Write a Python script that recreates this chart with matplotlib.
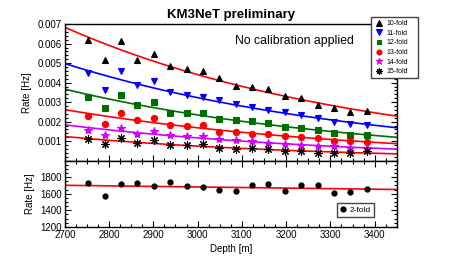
import matplotlib
matplotlib.use("Agg")
import matplotlib.pyplot as plt
import numpy as np
from matplotlib.ticker import MultipleLocator, FuncFormatter

plt.rcParams["font.family"] = ["Liberation Sans", "DejaVu Sans"]

# ── Data ────────────────────────────────────────────────────
depth = [2752, 2790, 2827, 2864, 2901, 2938, 2975, 3012, 3049,
         3086, 3123, 3160, 3197, 3234, 3271, 3308, 3345, 3382]

# coincidence rates [Hz] per fold level
rate_10 = [6.18, 5.15, 6.14, 5.15, 5.45, 4.85, 4.69, 4.59, 4.25,
           3.84, 3.75, 3.67, 3.29, 3.22, 2.85, 2.69, 2.50, 2.55]
rate_11 = [4.50, 3.62, 4.61, 3.86, 4.09, 3.50, 3.38, 3.27, 3.09,
           2.88, 2.76, 2.62, 2.47, 2.32, 2.18, 1.96, 1.88, 1.84]
rate_12 = [3.24, 2.71, 3.38, 2.86, 2.99, 2.45, 2.45, 2.44, 2.13,
           2.10, 2.05, 1.91, 1.73, 1.69, 1.57, 1.44, 1.30, 1.30]
rate_13 = [2.30, 1.86, 2.42, 2.08, 2.21, 1.81, 1.80, 1.82, 1.49,
           1.49, 1.36, 1.37, 1.27, 1.22, 1.18, 0.98, 0.98, 0.95]
rate_14 = [1.59, 1.30, 1.68, 1.37, 1.50, 1.32, 1.27, 1.25, 1.10,
           1.05, 0.98, 0.92, 0.84, 0.81, 0.75, 0.74, 0.64, 0.64]
rate_15 = [1.10, 0.86, 1.14, 0.88, 1.07, 0.79, 0.79, 0.87, 0.63,
           0.62, 0.65, 0.58, 0.48, 0.50, 0.41, 0.41, 0.39, 0.47]
rate_2 = [1725, 1570, 1717, 1725, 1697, 1745, 1689, 1681, 1650,
          1630, 1705, 1717, 1638, 1709, 1705, 1610, 1618, 1662]

fold_labels = ["10-fold", "11-fold", "12-fold", "13-fold", "14-fold", "15-fold"]
fold_rates = [rate_10, rate_11, rate_12, rate_13, rate_14, rate_15]
# (marker, marker colour, marker size, fit line colour)
fold_style = [
    ("^", "black",   5.0, "#ff0000"),
    ("v", "#0000ff", 5.0, "#0000ff"),
    ("s", "#006e00", 4.0, "#006e00"),
    ("o", "#ff0000", 4.5, "#ff0000"),
    ("*", "#d000ff", 6.0, "#d000ff"),
    ((8, 2, 0), "black", 6.0, "#ff0000"),
]

x_fit = np.linspace(2700, 3450, 200)


def style_axis(ax):
    ax.tick_params(which="both", direction="in", right=True,
                   labelsize=7, pad=2, width=0.8)
    ax.tick_params(which="major", length=4)
    ax.tick_params(which="minor", length=2)
    for s in ax.spines.values():
        s.set_linewidth(1.0)


fig = plt.figure(figsize=(4.63, 2.62), dpi=100)
ax1 = fig.add_axes([0.140, 0.387, 0.717, 0.521])
ax2 = fig.add_axes([0.140, 0.134, 0.717, 0.253], sharex=ax1)

# ── Top panel: multi-fold rates with exponential fits ───────
handles = []
for lab, vals, (mk, mc, ms, lc) in zip(fold_labels, fold_rates, fold_style):
    y = np.array(vals) * 1e-3
    slope, icpt = np.polyfit(depth, np.log(y), 1)
    ax1.plot(x_fit, np.exp(icpt + slope * x_fit), color=lc, lw=1.2, zorder=2)
    h, = ax1.plot(depth, y, ls="none", marker=mk, color=mc, mec=mc,
                  ms=ms, mew=0.8, label=lab, zorder=3)
    handles.append(h)

ax1.set_xlim(2700, 3450)
ax1.set_ylim(0, 0.007)
ax1.yaxis.set_major_locator(MultipleLocator(0.001))
ax1.yaxis.set_minor_locator(MultipleLocator(0.0002))
ax1.yaxis.set_major_formatter(
    FuncFormatter(lambda v, _: "" if abs(v) < 1e-9 else f"{v:.3f}"))
ax1.set_ylabel("Rate [Hz]", fontsize=7, labelpad=4)
style_axis(ax1)
ax1.tick_params(axis="x", labelbottom=False)

fig.legend(handles=handles, loc="upper left",
           bbox_to_anchor=(0.801, 0.709, 0.102, 0.226), mode="expand",
           fontsize=5, frameon=True, fancybox=False, edgecolor="#444444",
           framealpha=1, handlelength=1.3, handletextpad=0.5,
           labelspacing=0.38, borderpad=0.45, markerscale=0.8,
           borderaxespad=0)

fig.text(235 / 463, 1 - 41 / 262, "No calibration applied",
         fontsize=8.8, va="center", ha="left")
fig.text(0.4985, 0.943, "KM3NeT preliminary", fontsize=9.5,
         fontweight="bold", ha="center", va="center")

# ── Bottom panel: 2-fold rate with linear fit ───────────────
p = np.polyfit(depth, rate_2, 1)
ax2.plot(x_fit, np.polyval(p, x_fit), color="#ff0000", lw=1.2, zorder=2)
ax2.plot(depth, rate_2, ls="none", marker="o", color="black", ms=3.5,
         label="2-fold", zorder=3)
ax2.set_ylim(1200, 2000)
ax2.yaxis.set_major_locator(MultipleLocator(200))
ax2.yaxis.set_minor_locator(MultipleLocator(50))
ax2.yaxis.set_major_formatter(
    FuncFormatter(lambda v, _: "" if v > 1900 else f"{v:.0f}"))
ax2.xaxis.set_major_locator(MultipleLocator(100))
ax2.xaxis.set_minor_locator(MultipleLocator(25))
ax2.set_ylabel("Rate [Hz]", fontsize=7, labelpad=4)
ax2.set_xlabel("Depth [m]", fontsize=7, labelpad=3)
style_axis(ax2)
ax2.tick_params(axis="x", which="both", top=True)

ax2.legend(loc="upper left", bbox_to_anchor=(337 / 463, 1 - 203 / 262),
           bbox_transform=fig.transFigure, fontsize=6, frameon=True,
           fancybox=False, edgecolor="#444444", framealpha=1,
           handlelength=0.8, handletextpad=0.4, borderpad=0.35,
           borderaxespad=0)

fig.savefig("out.png", dpi=100)
